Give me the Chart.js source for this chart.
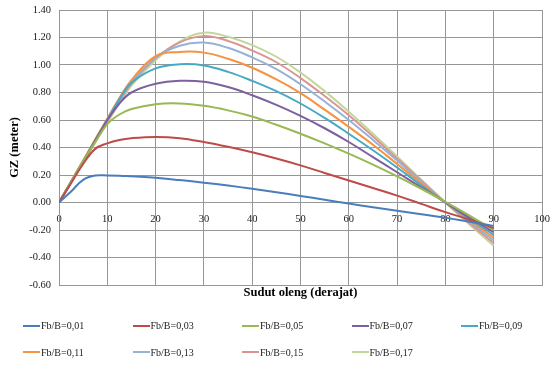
<!DOCTYPE html>
<html lang="id">
  <head>
    <meta charset="UTF-8" />
    <title>GZ vs Sudut oleng</title>
    <style>
      body { margin: 0; background: #fff; }
      .wrap { position: relative; width: 554px; height: 372px; }
      .legend-item {
        position: absolute;
        font: 10px "Liberation Serif", "Times New Roman", serif;
        color: #222;
        white-space: nowrap;
        line-height: 12px;
      }
      .legend-item span {
        display: inline-block;
        width: 17px;
        height: 2px;
        vertical-align: middle;
        margin-right: 1px;
        margin-top: -2px;
      }
    </style>
  </head>
  <body>
    <div class="wrap">
      <canvas id="gzChart"></canvas>
      <div id="legend"></div>
    </div>

    <script src="https://cdn.jsdelivr.net/npm/chart.js"></script>
    <script>
      // sudut oleng (derajat)
      const angles = [0, 2.5, 5, 7.5, 10, 12.5, 15, 20, 25, 30, 35, 40, 45, 50, 55, 60, 65, 70, 75, 80, 85, 90];

      // GZ (meter) untuk tiap Fb/B
      const gz001 = [0, 0.08, 0.165, 0.196, 0.197, 0.195, 0.19, 0.18, 0.163, 0.144, 0.123, 0.10, 0.075, 0.048, 0.02, -0.008, -0.035, -0.06, -0.085, -0.11, -0.14, -0.17];
      const gz003 = [0, 0.14, 0.28, 0.39, 0.43, 0.455, 0.468, 0.477, 0.468, 0.44, 0.405, 0.365, 0.32, 0.27, 0.215, 0.16, 0.105, 0.05, -0.01, -0.07, -0.125, -0.185];
      const gz005 = [0, 0.15, 0.3, 0.44, 0.57, 0.64, 0.68, 0.715, 0.72, 0.703, 0.67, 0.625, 0.565, 0.5, 0.43, 0.355, 0.275, 0.19, 0.1, 0.005, -0.095, -0.2];
      const gz007 = [0, 0.15, 0.3, 0.45, 0.6, 0.72, 0.8, 0.863, 0.885, 0.878, 0.84, 0.78, 0.71, 0.63, 0.54, 0.44, 0.33, 0.22, 0.11, 0.0, -0.11, -0.215];
      const gz009 = [0, 0.15, 0.3, 0.45, 0.6, 0.75, 0.87, 0.975, 1.005, 0.997, 0.95, 0.885, 0.81, 0.72, 0.615, 0.5, 0.38, 0.255, 0.125, 0.0, -0.12, -0.235];
      const gz011 = [0, 0.152, 0.305, 0.46, 0.61, 0.76, 0.89, 1.065, 1.095, 1.09, 1.045, 0.98, 0.895, 0.795, 0.675, 0.55, 0.42, 0.28, 0.14, 0.0, -0.13, -0.255];
      const gz013 = [0, 0.15, 0.3, 0.45, 0.6, 0.745, 0.875, 1.055, 1.14, 1.163, 1.125, 1.055, 0.97, 0.86, 0.735, 0.6, 0.455, 0.305, 0.15, 0.0, -0.14, -0.275];
      const gz015 = [0, 0.148, 0.295, 0.445, 0.59, 0.735, 0.865, 1.05, 1.165, 1.21, 1.175, 1.105, 1.02, 0.905, 0.775, 0.635, 0.48, 0.32, 0.16, 0.0, -0.15, -0.295];
      const gz017 = [0, 0.145, 0.29, 0.435, 0.58, 0.72, 0.85, 1.035, 1.17, 1.235, 1.205, 1.145, 1.06, 0.945, 0.81, 0.66, 0.5, 0.335, 0.165, 0.0, -0.16, -0.315];

      const seriesLabels = ['Fb/B=0,01', 'Fb/B=0,03', 'Fb/B=0,05', 'Fb/B=0,07', 'Fb/B=0,09', 'Fb/B=0,11', 'Fb/B=0,13', 'Fb/B=0,15', 'Fb/B=0,17'];
      const seriesValues = [gz001, gz003, gz005, gz007, gz009, gz011, gz013, gz015, gz017];
      const seriesColors = ['#4A7EBB', '#BE4B48', '#98B954', '#7D60A0', '#46AAC5', '#F69240', '#95B3D7', '#D99694', '#C3D69B'];

      const xTicks = [0, 10, 20, 30, 40, 50, 60, 70, 80, 90, 100];
      const yTicks = [-0.6, -0.4, -0.2, 0, 0.2, 0.4, 0.6, 0.8, 1.0, 1.2, 1.4];

      const gridColor = '#969696';
      const tickFont = { family: '"Liberation Serif", "Times New Roman", serif', size: 10.5 };
      const titleFont = { family: '"Liberation Serif", "Times New Roman", serif', size: 12.5, weight: 'bold' };

      const datasets = seriesLabels.map((label, i) => ({
        label: label,
        data: angles.map((a, j) => ({ x: a, y: seriesValues[i][j] })),
        borderColor: seriesColors[i],
        backgroundColor: seriesColors[i],
        borderWidth: 2,
        pointRadius: 0,
        tension: 0.4,
        fill: false
      }));

      const ctx = document.getElementById('gzChart').getContext('2d');
      new Chart(ctx, {
        type: 'line',
        data: { datasets: datasets },
        options: {
          responsive: true,
          maintainAspectRatio: false,
          animation: false,
          layout: { padding: { left: 0, right: 12, top: 10, bottom: 67 } },
          plugins: {
            legend: { display: false },
            tooltip: { enabled: false }
          },
          scales: {
            x: {
              type: 'linear',
              min: xTicks[0],
              max: xTicks[xTicks.length - 1],
              afterBuildTicks: (scale) => { scale.ticks = xTicks.map(v => ({ value: v })); },
              afterFit: (scale) => {
                scale.height = 20;
                scale.paddingLeft = 0;
                scale.paddingRight = 0;
              },
              grid: { color: gridColor, drawTicks: false },
              border: { color: gridColor },
              ticks: { display: false },
              title: {
                display: true,
                text: 'Sudut oleng (derajat)',
                color: '#000',
                font: titleFont,
                padding: { top: 0, bottom: 5 }
              }
            },
            // label sumbu-x diletakkan pada garis GZ = 0
            xLabels: {
              type: 'linear',
              axis: 'x',
              position: { y: 0 },
              min: xTicks[0],
              max: xTicks[xTicks.length - 1],
              afterBuildTicks: (scale) => { scale.ticks = xTicks.map(v => ({ value: v })); },
              afterFit: (scale) => {
                scale.paddingLeft = 0;
                scale.paddingRight = 0;
              },
              grid: { display: false, drawTicks: false },
              border: { display: false },
              ticks: { color: '#222', font: tickFont, padding: 10, maxRotation: 0 }
            },
            y: {
              min: yTicks[0],
              max: yTicks[yTicks.length - 1],
              afterBuildTicks: (scale) => { scale.ticks = yTicks.map(v => ({ value: v })); },
              afterFit: (scale) => {
                scale.width = 59;
                scale.paddingTop = 0;
                scale.paddingBottom = 0;
              },
              grid: { color: gridColor, drawTicks: false },
              border: { color: gridColor },
              ticks: {
                color: '#222',
                font: tickFont,
                padding: 8,
                callback: (v) => Number(v).toFixed(2)
              },
              title: {
                display: true,
                text: 'GZ (meter)',
                color: '#000',
                font: titleFont,
                padding: { top: 7.5, bottom: 0 }
              }
            }
          }
        }
      });

      // legenda: 5 kolom, 2 baris
      const legendBox = document.getElementById('legend');
      seriesLabels.forEach((label, i) => {
        const item = document.createElement('div');
        item.className = 'legend-item';
        item.style.left = (23 + (i % 5) * 109.5) + 'px';
        item.style.top = (320 + Math.floor(i / 5) * 26.5) + 'px';
        const line = document.createElement('span');
        line.style.background = seriesColors[i];
        item.appendChild(line);
        item.appendChild(document.createTextNode(label));
        legendBox.appendChild(item);
      });
    </script>
  </body>
</html>
